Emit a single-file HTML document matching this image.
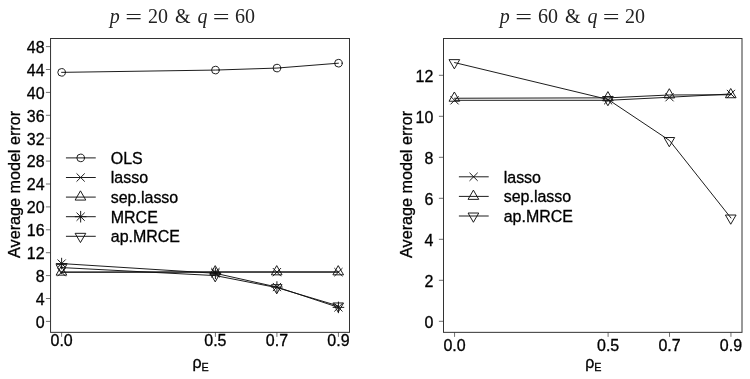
<!DOCTYPE html>
<html><head><meta charset="utf-8"><title>Average model error</title>
<style>
html,body{margin:0;padding:0;background:#fff;}
svg{display:block;font-family:"Liberation Sans",sans-serif;}
svg text{stroke:#000;stroke-width:0.3px;paint-order:stroke;}
svg .ttl text{stroke:none;}
svg .ttl{font-family:"Liberation Serif",serif;}
</style></head>
<body>
<svg width="750" height="379" viewBox="0 0 750 379">
<rect width="750" height="379" fill="#fff"/>
<rect x="50.55" y="38.50" width="298.95" height="293.85" fill="none" stroke="#333" stroke-width="1"/>
<g stroke="#333" stroke-width="0.7">
<line x1="45.95" x2="50.55" y1="321.40" y2="321.40"/>
<line x1="45.95" x2="50.55" y1="298.50" y2="298.50"/>
<line x1="45.95" x2="50.55" y1="275.60" y2="275.60"/>
<line x1="45.95" x2="50.55" y1="252.70" y2="252.70"/>
<line x1="45.95" x2="50.55" y1="229.80" y2="229.80"/>
<line x1="45.95" x2="50.55" y1="206.90" y2="206.90"/>
<line x1="45.95" x2="50.55" y1="184.00" y2="184.00"/>
<line x1="45.95" x2="50.55" y1="161.10" y2="161.10"/>
<line x1="45.95" x2="50.55" y1="138.20" y2="138.20"/>
<line x1="45.95" x2="50.55" y1="115.30" y2="115.30"/>
<line x1="45.95" x2="50.55" y1="92.40" y2="92.40"/>
<line x1="45.95" x2="50.55" y1="69.50" y2="69.50"/>
<line x1="45.95" x2="50.55" y1="46.60" y2="46.60"/>
<line x1="61.62" x2="61.62" y1="332.35" y2="336.85"/>
<line x1="215.40" x2="215.40" y1="332.35" y2="336.85"/>
<line x1="276.92" x2="276.92" y1="332.35" y2="336.85"/>
<line x1="338.43" x2="338.43" y1="332.35" y2="336.85"/>
</g>
<g font-size="15.6" fill="#000">
<text transform="translate(44.65 327.70) scale(1.025 1)" text-anchor="end" font-size="15.6">0</text>
<text transform="translate(44.65 304.80) scale(1.025 1)" text-anchor="end" font-size="15.6">4</text>
<text transform="translate(44.65 281.90) scale(1.025 1)" text-anchor="end" font-size="15.6">8</text>
<text transform="translate(44.65 259.00) scale(1.025 1)" text-anchor="end" font-size="15.6">12</text>
<text transform="translate(44.65 236.10) scale(1.025 1)" text-anchor="end" font-size="15.6">16</text>
<text transform="translate(44.65 213.20) scale(1.025 1)" text-anchor="end" font-size="15.6">20</text>
<text transform="translate(44.65 190.30) scale(1.025 1)" text-anchor="end" font-size="15.6">24</text>
<text transform="translate(44.65 167.40) scale(1.025 1)" text-anchor="end" font-size="15.6">28</text>
<text transform="translate(44.65 144.50) scale(1.025 1)" text-anchor="end" font-size="15.6">32</text>
<text transform="translate(44.65 121.60) scale(1.025 1)" text-anchor="end" font-size="15.6">36</text>
<text transform="translate(44.65 98.70) scale(1.025 1)" text-anchor="end" font-size="15.6">40</text>
<text transform="translate(44.65 75.80) scale(1.025 1)" text-anchor="end" font-size="15.6">44</text>
<text transform="translate(44.65 52.90) scale(1.025 1)" text-anchor="end" font-size="15.6">48</text>
<text transform="translate(61.62 346.30) scale(1.025 1)" text-anchor="middle" font-size="15.6">0.0</text>
<text transform="translate(215.40 346.30) scale(1.025 1)" text-anchor="middle" font-size="15.6">0.5</text>
<text transform="translate(276.92 346.30) scale(1.025 1)" text-anchor="middle" font-size="15.6">0.7</text>
<text transform="translate(338.43 346.30) scale(1.025 1)" text-anchor="middle" font-size="15.6">0.9</text>
</g>
<text transform="translate(192.43 367.60) scale(1.025 1)" text-anchor="start" font-size="15.6">ρ<tspan font-size="10.5" dy="3.2">E</tspan></text>
<text transform="translate(19.95 184.43) rotate(-90) scale(1.03 1)" text-anchor="middle" font-size="15.7">Average model error</text>
<g fill="none" stroke="#111" stroke-width="0.95" stroke-linejoin="round" stroke-linecap="round">
<polyline points="61.62,72.36 215.40,70.07 276.92,68.07 338.43,63.20"/>
<circle cx="61.62" cy="72.36" r="3.81" />
<circle cx="215.40" cy="70.07" r="3.81" />
<circle cx="276.92" cy="68.07" r="3.81" />
<circle cx="338.43" cy="63.20" r="3.81" />
<polyline points="61.62,272.16 215.40,272.16 276.92,272.16 338.43,272.16"/>
<path d="M57.81 268.35L65.43 275.97M57.81 275.97L65.43 268.35"/>
<path d="M211.59 268.35L219.21 275.97M211.59 275.97L219.21 268.35"/>
<path d="M273.11 268.35L280.73 275.97M273.11 275.97L280.73 268.35"/>
<path d="M334.62 268.35L342.24 275.97M334.62 275.97L342.24 268.35"/>
<polyline points="61.62,272.16 215.40,271.88 276.92,271.88 338.43,271.88"/>
<path d="M61.62 266.23L66.76 275.13L56.49 275.13Z"/>
<path d="M215.40 265.95L220.54 274.84L210.27 274.84Z"/>
<path d="M276.92 265.95L282.05 274.84L271.78 274.84Z"/>
<path d="M338.43 265.95L343.56 274.84L333.29 274.84Z"/>
<polyline points="61.62,263.58 215.40,273.31 276.92,287.05 338.43,307.37"/>
<path d="M57.81 259.77L65.43 267.39M57.81 267.39L65.43 259.77"/><path d="M56.23 263.58L67.01 263.58M61.62 258.19L61.62 268.97"/>
<path d="M211.59 269.50L219.21 277.12M211.59 277.12L219.21 269.50"/><path d="M210.01 273.31L220.79 273.31M215.40 267.92L215.40 278.70"/>
<path d="M273.11 283.24L280.73 290.86M273.11 290.86L280.73 283.24"/><path d="M271.53 287.05L282.30 287.05M276.92 281.66L276.92 292.44"/>
<path d="M334.62 303.56L342.24 311.18M334.62 311.18L342.24 303.56"/><path d="M333.04 307.37L343.82 307.37M338.43 301.99L338.43 312.76"/>
<polyline points="61.62,267.58 215.40,275.60 276.92,287.62 338.43,305.94"/>
<path d="M61.62 273.51L66.76 264.62L56.49 264.62Z"/>
<path d="M215.40 281.53L220.54 272.63L210.27 272.63Z"/>
<path d="M276.92 293.55L282.05 284.66L271.78 284.66Z"/>
<path d="M338.43 311.87L343.56 302.98L333.29 302.98Z"/>
<line x1="65.95" x2="95.75" y1="157.90" y2="157.90" stroke-linecap="butt"/>
<circle cx="80.65" cy="157.90" r="3.81" />
<line x1="65.95" x2="95.75" y1="177.50" y2="177.50" stroke-linecap="butt"/>
<path d="M76.84 173.69L84.46 181.31M76.84 181.31L84.46 173.69"/>
<line x1="65.95" x2="95.75" y1="197.10" y2="197.10" stroke-linecap="butt"/>
<path d="M80.65 191.17L85.79 200.07L75.51 200.07Z"/>
<line x1="65.95" x2="95.75" y1="216.70" y2="216.70" stroke-linecap="butt"/>
<path d="M76.84 212.89L84.46 220.51M76.84 220.51L84.46 212.89"/><path d="M75.26 216.70L86.04 216.70M80.65 211.31L80.65 222.09"/>
<line x1="65.95" x2="95.75" y1="236.30" y2="236.30" stroke-linecap="butt"/>
<path d="M80.65 242.23L85.79 233.34L75.51 233.34Z"/>
</g>
<g font-size="15.6" fill="#000">
<text transform="translate(110.75 163.70) scale(1.025 1)" text-anchor="start" font-size="15.6">OLS</text>
<text transform="translate(110.75 183.30) scale(1.025 1)" text-anchor="start" font-size="15.6">lasso</text>
<text transform="translate(110.75 202.90) scale(1.025 1)" text-anchor="start" font-size="15.6">sep.lasso</text>
<text transform="translate(110.75 222.50) scale(1.025 1)" text-anchor="start" font-size="15.6">MRCE</text>
<text transform="translate(110.75 242.10) scale(1.025 1)" text-anchor="start" font-size="15.6">ap.MRCE</text>
</g>
<g class="ttl" font-size="20" fill="#222">
<text x="109.70" y="22.7" font-style="italic">p</text>
<text x="125.30" y="23.9" textLength="16.8" lengthAdjust="spacingAndGlyphs">=</text>
<text x="148.00" y="22.7">20</text>
<text x="174.90" y="22.7">&amp;</text>
<text x="197.40" y="22.7" font-style="italic">q</text>
<text x="212.80" y="23.9" textLength="16.8" lengthAdjust="spacingAndGlyphs">=</text>
<text x="235.10" y="22.7">60</text>
</g>
<rect x="443.50" y="38.50" width="298.50" height="293.85" fill="none" stroke="#333" stroke-width="1"/>
<g stroke="#333" stroke-width="0.7">
<line x1="438.90" x2="443.50" y1="321.30" y2="321.30"/>
<line x1="438.90" x2="443.50" y1="280.30" y2="280.30"/>
<line x1="438.90" x2="443.50" y1="239.30" y2="239.30"/>
<line x1="438.90" x2="443.50" y1="198.30" y2="198.30"/>
<line x1="438.90" x2="443.50" y1="157.30" y2="157.30"/>
<line x1="438.90" x2="443.50" y1="116.30" y2="116.30"/>
<line x1="438.90" x2="443.50" y1="75.30" y2="75.30"/>
<line x1="454.56" x2="454.56" y1="332.35" y2="336.85"/>
<line x1="608.10" x2="608.10" y1="332.35" y2="336.85"/>
<line x1="669.52" x2="669.52" y1="332.35" y2="336.85"/>
<line x1="730.94" x2="730.94" y1="332.35" y2="336.85"/>
</g>
<g font-size="15.6" fill="#000">
<text transform="translate(433.40 327.60) scale(1.025 1)" text-anchor="end" font-size="15.6">0</text>
<text transform="translate(433.40 286.60) scale(1.025 1)" text-anchor="end" font-size="15.6">2</text>
<text transform="translate(433.40 245.60) scale(1.025 1)" text-anchor="end" font-size="15.6">4</text>
<text transform="translate(433.40 204.60) scale(1.025 1)" text-anchor="end" font-size="15.6">6</text>
<text transform="translate(433.40 163.60) scale(1.025 1)" text-anchor="end" font-size="15.6">8</text>
<text transform="translate(433.40 122.60) scale(1.025 1)" text-anchor="end" font-size="15.6">10</text>
<text transform="translate(433.40 81.60) scale(1.025 1)" text-anchor="end" font-size="15.6">12</text>
<text transform="translate(454.56 351.00) scale(1.025 1)" text-anchor="middle" font-size="15.6">0.0</text>
<text transform="translate(608.10 351.00) scale(1.025 1)" text-anchor="middle" font-size="15.6">0.5</text>
<text transform="translate(669.52 351.00) scale(1.025 1)" text-anchor="middle" font-size="15.6">0.7</text>
<text transform="translate(730.94 351.00) scale(1.025 1)" text-anchor="middle" font-size="15.6">0.9</text>
</g>
<text transform="translate(585.15 367.60) scale(1.025 1)" text-anchor="start" font-size="15.6">ρ<tspan font-size="10.5" dy="3.2">E</tspan></text>
<text transform="translate(412.10 184.43) rotate(-90) scale(1.03 1)" text-anchor="middle" font-size="15.7">Average model error</text>
<g fill="none" stroke="#111" stroke-width="0.95" stroke-linejoin="round" stroke-linecap="round">
<polyline points="454.56,100.31 608.10,100.31 669.52,97.24 730.94,93.96"/>
<path d="M450.75 96.50L458.37 104.12M450.75 104.12L458.37 96.50"/>
<path d="M604.29 96.50L611.91 104.12M604.29 104.12L611.91 96.50"/>
<path d="M665.71 93.43L673.33 101.05M665.71 101.05L673.33 93.43"/>
<path d="M727.13 90.15L734.75 97.77M727.13 97.77L734.75 90.15"/>
<polyline points="454.56,98.26 608.10,97.85 669.52,94.98 730.94,94.78"/>
<path d="M454.56 92.33L459.69 101.22L449.42 101.22Z"/>
<path d="M608.10 91.92L613.24 100.81L602.97 100.81Z"/>
<path d="M669.52 89.05L674.66 97.95L664.39 97.95Z"/>
<path d="M730.94 88.84L736.08 97.74L725.81 97.74Z"/>
<polyline points="454.56,62.59 608.10,99.49 669.52,140.49 730.94,217.98"/>
<path d="M454.56 68.52L459.69 59.63L449.42 59.63Z"/>
<path d="M608.10 105.42L613.24 96.53L602.97 96.53Z"/>
<path d="M669.52 146.42L674.66 137.53L664.39 137.53Z"/>
<path d="M730.94 223.91L736.08 215.02L725.81 215.02Z"/>
<line x1="458.90" x2="488.70" y1="176.80" y2="176.80" stroke-linecap="butt"/>
<path d="M469.79 172.99L477.41 180.61M469.79 180.61L477.41 172.99"/>
<line x1="458.90" x2="488.70" y1="196.40" y2="196.40" stroke-linecap="butt"/>
<path d="M473.60 190.47L478.74 199.37L468.46 199.37Z"/>
<line x1="458.90" x2="488.70" y1="216.00" y2="216.00" stroke-linecap="butt"/>
<path d="M473.60 221.93L478.74 213.03L468.46 213.03Z"/>
</g>
<g font-size="15.6" fill="#000">
<text transform="translate(503.70 182.60) scale(1.025 1)" text-anchor="start" font-size="15.6">lasso</text>
<text transform="translate(503.70 202.20) scale(1.025 1)" text-anchor="start" font-size="15.6">sep.lasso</text>
<text transform="translate(503.70 221.80) scale(1.025 1)" text-anchor="start" font-size="15.6">ap.MRCE</text>
</g>
<g class="ttl" font-size="20" fill="#222">
<text x="499.70" y="22.7" font-style="italic">p</text>
<text x="515.30" y="23.9" textLength="16.8" lengthAdjust="spacingAndGlyphs">=</text>
<text x="538.00" y="22.7">60</text>
<text x="564.90" y="22.7">&amp;</text>
<text x="587.40" y="22.7" font-style="italic">q</text>
<text x="602.80" y="23.9" textLength="16.8" lengthAdjust="spacingAndGlyphs">=</text>
<text x="625.10" y="22.7">20</text>
</g>
</svg>
</body></html>
